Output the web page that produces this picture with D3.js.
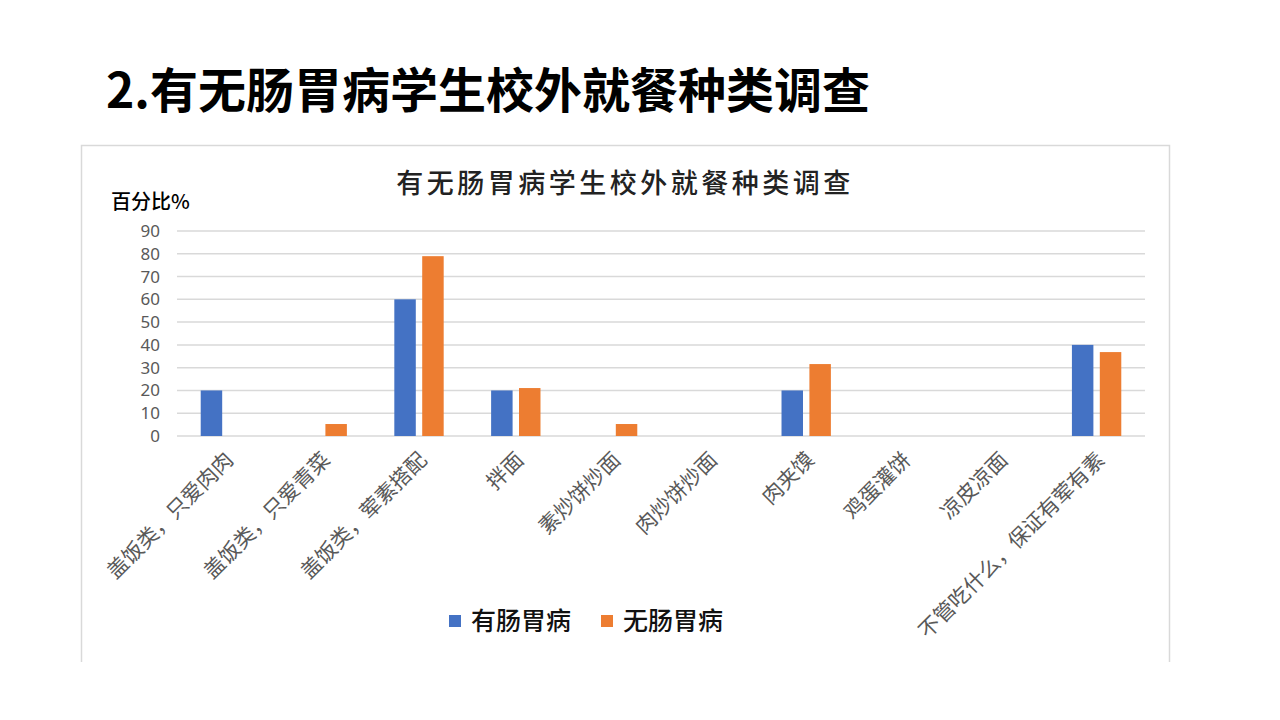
<!DOCTYPE html>
<html>
<head>
<meta charset="utf-8">
<script src="https://cdn.jsdelivr.net/npm/d3@7"></script>
<style>
  body { margin: 0; background: #fff; }
  text { font-family: "Noto Sans CJK SC", "Noto Sans", sans-serif; }
</style>
</head>
<body>
<div id="chart"></div>
<script>
// data
const categories = ['盖饭类，只爱肉肉', '盖饭类，只爱青菜', '盖饭类，荤素搭配', '拌面', '素炒饼炒面',
    '肉炒饼炒面', '肉夹馍', '鸡蛋灌饼', '凉皮凉面', '不管吃什么，保证有荤有素'];
const seriesNames = ['有肠胃病', '无肠胃病'];
const withIllness = [20, 0, 60, 20, 0, 0, 20, 0, 0, 40];
const withoutIllness = [0, 5.26, 78.95, 21.05, 5.26, 0, 31.58, 0, 0, 36.84];
const yTicks = [0, 10, 20, 30, 40, 50, 60, 70, 80, 90];
const colors = ['#4472C4', '#ED7D31'];

const width = 1280;
const height = 720;

const svg = d3.select('#chart')
    .append('svg')
    .attr('width', width)
    .attr('height', height);

// slide title
svg.append('text')
    .attr('x', 106)
    .attr('y', 108)
    .attr('font-size', 48)
    .attr('font-weight', 'bold')
    .attr('fill', '#000')
    .text('2.有无肠胃病学生校外就餐种类调查');

// chart frame (bottom edge cut off)
svg.append('path')
    .attr('d', 'M81.5,662 V145.5 H1169.5 V662')
    .attr('fill', 'none')
    .attr('stroke', '#d9d9d9')
    .attr('stroke-width', 1.5);

svg.append('text')
    .attr('x', 625)
    .attr('y', 193)
    .attr('text-anchor', 'middle')
    .attr('font-size', 27)
    .attr('font-weight', 500)
    .attr('letter-spacing', 3.5)
    .attr('fill', '#222')
    .text('有无肠胃病学生校外就餐种类调查');

svg.append('text')
    .attr('x', 111)
    .attr('y', 209)
    .attr('font-size', 20)
    .attr('font-weight', 500)
    .attr('fill', '#000')
    .text('百分比%');

const plotLeft = 177, plotRight = 1145, plotTop = 231, plotBottom = 436;

const x0 = d3.scaleBand()
    .domain(categories)
    .range([plotLeft, plotRight])
    .paddingInner(0.49)
    .paddingOuter(0.245);

const x1 = d3.scaleBand()
    .domain(seriesNames)
    .range([0, x0.bandwidth()])
    .paddingInner(0.23);

const y = d3.scaleLinear()
    .domain([0, 90])
    .range([plotBottom, plotTop]);

// gridlines
svg.append('g')
    .selectAll('line')
    .data(yTicks)
    .enter()
    .append('line')
    .attr('x1', plotLeft)
    .attr('x2', plotRight)
    .attr('y1', d => y(d))
    .attr('y2', d => y(d))
    .attr('stroke', '#d9d9d9')
    .attr('stroke-width', 1.5);

// y axis labels
const yAxis = d3.axisLeft(y).tickValues(yTicks).tickSize(0).tickPadding(0);
svg.append('g')
    .attr('transform', `translate(160, 0)`)
    .call(yAxis)
    .call(g => g.select('.domain').remove())
    .selectAll('text')
    .attr('font-size', 17)
    .attr('fill', '#595959')
    .style('font-family', '"Noto Sans", sans-serif');

// bars
const rows = categories.map((c, i) => ({ cat: c, values: [withIllness[i], withoutIllness[i]] }));

const groups = svg.append('g')
    .selectAll('g')
    .data(rows)
    .enter()
    .append('g')
    .attr('transform', d => `translate(${x0(d.cat)}, 0)`);

groups.selectAll('rect')
    .data(d => d.values.map((v, j) => ({ name: seriesNames[j], value: v, color: colors[j] })))
    .enter()
    .append('rect')
    .attr('x', d => x1(d.name))
    .attr('width', x1.bandwidth())
    .attr('y', d => y(d.value))
    .attr('height', d => plotBottom - y(d.value))
    .attr('fill', d => d.color);

// x axis labels, rotated
const xAxis = d3.axisBottom(x0).tickSize(0).tickPadding(0);
svg.append('g')
    .attr('transform', `translate(0, ${plotBottom})`)
    .call(xAxis)
    .call(g => g.select('.domain').remove())
    .selectAll('text')
    .attr('font-size', 21)
    .attr('fill', '#595959')
    .attr('text-anchor', 'end')
    .attr('dy', '0.35em')
    .attr('transform', 'translate(4, 20) rotate(-45)');

// legend
const legend = svg.append('g')
    .selectAll('g')
    .data(seriesNames)
    .enter()
    .append('g')
    .attr('transform', (d, i) => `translate(${449 + i * 152}, 615)`);

legend.append('rect')
    .attr('width', 12)
    .attr('height', 12)
    .attr('fill', (d, i) => colors[i]);

legend.append('text')
    .attr('x', 22)
    .attr('y', 6)
    .attr('dy', '0.35em')
    .attr('font-size', 25)
    .attr('font-weight', 500)
    .attr('fill', '#111')
    .text(d => d);
</script>
</body>
</html>
